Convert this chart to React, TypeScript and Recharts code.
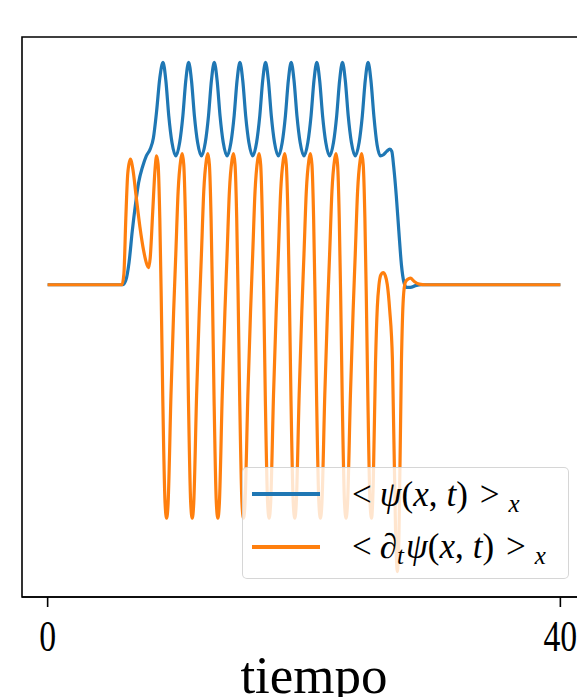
import React from 'react'
import { LineChart, Line, XAxis, YAxis, Legend, Label, ReferenceArea } from 'recharts'

// <psi(x,t)>_x sampled along tiempo
const tiempoPsi = [
  0, 5.85, 6.1, 6.35, 6.6, 6.85, 7.1, 7.4, 7.7, 8.0, 8.25, 8.5, 8.75, 9.0,
  9.22, 9.45, 9.7, 10.0, 10.3, 10.55, 10.78, 11.0,
  11.22, 11.45, 11.7, 12.0, 12.3, 12.55, 12.78, 13.0,
  13.22, 13.45, 13.7, 14.0, 14.3, 14.55, 14.78, 15.0,
  15.22, 15.45, 15.7, 16.0, 16.3, 16.55, 16.78, 17.0,
  17.22, 17.45, 17.7, 18.0, 18.3, 18.55, 18.78, 19.0,
  19.22, 19.45, 19.7, 20.0, 20.3, 20.55, 20.78, 21.0,
  21.22, 21.45, 21.7, 22.0, 22.3, 22.55, 22.78, 23.0,
  23.22, 23.45, 23.7, 24.0, 24.3, 24.55, 24.78, 25.0,
  25.22, 25.45, 25.7, 25.95, 26.2, 26.45, 26.7, 26.85, 27.0, 27.2, 27.4, 27.6, 27.8,
  28.0, 28.3, 28.7, 29.2, 40,
]
const psiProm = [
  0, 0, 0.02, 0.1, 0.24, 0.36, 0.46, 0.53, 0.58, 0.61, 0.66, 0.78, 0.93, 1.0,
  0.92, 0.76, 0.64, 0.58, 0.64, 0.76, 0.92, 1.0,
  0.92, 0.76, 0.64, 0.58, 0.64, 0.76, 0.92, 1.0,
  0.92, 0.76, 0.64, 0.58, 0.64, 0.76, 0.92, 1.0,
  0.92, 0.76, 0.64, 0.58, 0.64, 0.76, 0.92, 1.0,
  0.92, 0.76, 0.64, 0.58, 0.64, 0.76, 0.92, 1.0,
  0.92, 0.76, 0.64, 0.58, 0.64, 0.76, 0.92, 1.0,
  0.92, 0.76, 0.64, 0.58, 0.64, 0.76, 0.92, 1.0,
  0.92, 0.76, 0.64, 0.58, 0.64, 0.76, 0.92, 1.0,
  0.92, 0.76, 0.63, 0.58, 0.585, 0.6, 0.61, 0.6, 0.53, 0.4, 0.24, 0.09, 0.01,
  -0.012, -0.012, -0.004, 0, 0,
]

// <d_t psi(x,t)>_x sampled along tiempo
const tiempoDt = [
  0, 5.8, 5.95, 6.1, 6.25, 6.45, 6.65, 6.9, 7.2, 7.5, 7.75, 7.87, 8.0, 8.2, 8.38, 8.5,
  8.62, 8.75, 8.86, 8.98, 9.16, 9.28, 9.4, 9.62, 9.83, 10.0, 10.18, 10.38, 10.5,
  10.62, 10.75, 10.86, 10.98, 11.16, 11.28, 11.4, 11.62, 11.83, 12.0, 12.18, 12.38, 12.5,
  12.62, 12.75, 12.86, 12.98, 13.16, 13.28, 13.4, 13.62, 13.83, 14.0, 14.18, 14.38, 14.5,
  14.62, 14.75, 14.86, 14.98, 15.16, 15.28, 15.4, 15.62, 15.83, 16.0, 16.18, 16.38, 16.5,
  16.62, 16.75, 16.86, 16.98, 17.16, 17.28, 17.4, 17.62, 17.83, 18.0, 18.18, 18.38, 18.5,
  18.62, 18.75, 18.86, 18.98, 19.16, 19.28, 19.4, 19.62, 19.83, 20.0, 20.18, 20.38, 20.5,
  20.62, 20.75, 20.86, 20.98, 21.16, 21.28, 21.4, 21.62, 21.83, 22.0, 22.18, 22.38, 22.5,
  22.62, 22.75, 22.86, 22.98, 23.16, 23.28, 23.4, 23.62, 23.83, 24.0, 24.18, 24.38, 24.5,
  24.62, 24.75, 24.86, 24.98, 25.15, 25.27, 25.4, 25.58, 25.72, 25.85, 26.0, 26.17, 26.35,
  26.5, 26.68, 26.9, 27.14, 27.28, 27.41, 27.6, 27.75, 27.9, 28.1, 28.3, 28.6, 29.0, 29.5, 40,
]
const dtPsiProm = [
  0, 0, 0.05, 0.3, 0.5, 0.565, 0.52, 0.4, 0.26, 0.15, 0.09, 0.077, 0.12, 0.33, 0.52, 0.58,
  0.54, 0.3, -0.05, -0.5, -0.98, -1.05, -0.98, -0.5, -0.12, 0.14, 0.42, 0.56, 0.59,
  0.54, 0.3, -0.05, -0.5, -0.98, -1.05, -0.98, -0.5, -0.12, 0.14, 0.42, 0.56, 0.59,
  0.54, 0.3, -0.05, -0.5, -0.98, -1.05, -0.98, -0.5, -0.12, 0.14, 0.42, 0.56, 0.59,
  0.54, 0.3, -0.05, -0.5, -0.98, -1.05, -0.98, -0.5, -0.12, 0.14, 0.42, 0.56, 0.59,
  0.54, 0.3, -0.05, -0.5, -0.98, -1.05, -0.98, -0.5, -0.12, 0.14, 0.42, 0.56, 0.59,
  0.54, 0.3, -0.05, -0.5, -0.98, -1.05, -0.98, -0.5, -0.12, 0.14, 0.42, 0.56, 0.59,
  0.54, 0.3, -0.05, -0.5, -0.98, -1.05, -0.98, -0.5, -0.12, 0.14, 0.42, 0.56, 0.59,
  0.54, 0.3, -0.05, -0.5, -0.98, -1.05, -0.98, -0.5, -0.12, 0.14, 0.42, 0.56, 0.59,
  0.54, 0.3, -0.05, -0.5, -0.98, -1.05, -0.9, -0.35, -0.1, 0, 0.045, 0.055, 0.04,
  0, -0.11, -0.34, -1.1, -1.29, -1.12, -0.35, -0.06, 0.01, 0.025, 0.03, 0.015, 0.003, 0, 0,
]

const xTicks = [0, 40]
const xDominio = [-2, 42]
const yDominio = [-1.4045, 1.1145]

const psiData = tiempoPsi.map((t, i) => ({ t, v: psiProm[i] }))
const dtData = tiempoDt.map((t, i) => ({ t, v: dtPsiProm[i] }))

const AZUL = '#1f77b4'
const NARANJA = '#ff7f0e'
const SERIF = '"Liberation Serif", "Times New Roman", serif'

const TickX = ({ x, y, payload }: any) => (
  <g transform={`translate(${x},${y})`}>
    <text transform="scale(0.75,1)" textAnchor="middle" dy={42} fontSize={45} fontFamily={SERIF} fill="#000">
      {payload.value}
    </text>
  </g>
)

const Sub = ({ children }: any) => (
  <span style={{ fontSize: 25, fontStyle: 'italic', position: 'relative', top: 6 }}>{children}</span>
)

// <psi(x,t)>_x  and  <d_t psi(x,t)>_x
const etiquetas = [
  <>
    <span>&lt;</span>
    <i style={{ marginLeft: 8 }}>ψ</i>(<i>x</i>,<i style={{ marginLeft: 9 }}>t</i>)
    <span style={{ marginLeft: 12 }}>&gt;</span>
    <span style={{ marginLeft: 9 }}><Sub>x</Sub></span>
  </>,
  <>
    <span>&lt;</span>
    <span style={{ marginLeft: 8 }}>∂</span><Sub>t</Sub>
    <i style={{ marginLeft: 2 }}>ψ</i>(<i>x</i>,<i style={{ marginLeft: 9 }}>t</i>)
    <span style={{ marginLeft: 12 }}>&gt;</span>
    <span style={{ marginLeft: 9 }}><Sub>x</Sub></span>
  </>,
]

const Leyenda = ({ payload }: any) => (
  <div
    style={{
      position: 'relative',
      boxSizing: 'border-box',
      width: 327,
      height: 112,
      background: 'rgba(255,255,255,0.8)',
      border: '1.5px solid rgba(204,204,204,0.8)',
      borderRadius: 5,
    }}
  >
    {(payload || []).map((entry: any, i: number) => (
      <React.Fragment key={i}>
        <div
          style={{
            position: 'absolute',
            left: 9,
            top: 24 + i * 53,
            width: 68,
            height: 3.5,
            background: entry.color,
          }}
        />
        <div
          style={{
            position: 'absolute',
            left: 109,
            top: 9 + i * 52,
            fontSize: 35,
            lineHeight: '35px',
            fontFamily: SERIF,
            whiteSpace: 'nowrap',
            color: '#000',
          }}
        >
          {etiquetas[i]}
        </div>
      </React.Fragment>
    ))}
  </div>
)

const EtiquetaTiempo = ({ viewBox }: any) => (
  <text
    x={viewBox.x + viewBox.width / 2 + 10}
    y={viewBox.y + 96}
    textAnchor="middle"
    fontSize={53}
    fontFamily={SERIF}
    fill="#000"
  >
    tiempo
  </text>
)

export default function App() {
  return (
    <div
      style={{
        position: 'fixed',
        left: 0,
        top: 0,
        width: 577,
        height: 697,
        overflow: 'hidden',
        background: '#fff',
      }}
    >
      <LineChart width={600} height={697} margin={{ top: 37, right: 14, bottom: 0, left: 22 }}>
        <XAxis
          dataKey="t"
          type="number"
          domain={xDominio}
          ticks={xTicks}
          height={100}
          tickSize={10}
          tickMargin={2}
          tick={<TickX />}
          axisLine={{ stroke: '#000', strokeWidth: 1.6 }}
          tickLine={{ stroke: '#000', strokeWidth: 1.6 }}
        >
          <Label content={<EtiquetaTiempo />} />
        </XAxis>
        <YAxis type="number" domain={yDominio} hide allowDataOverflow />
        <ReferenceArea
          x1={xDominio[0]}
          x2={xDominio[1]}
          y1={yDominio[0]}
          y2={yDominio[1]}
          fill="none"
          fillOpacity={0}
          stroke="#000"
          strokeWidth={1.6}
          ifOverflow="visible"
        />
        <Line
          data={psiData}
          dataKey="v"
          name="<ψ(x,t)>x"
          type="monotone"
          stroke={AZUL}
          strokeWidth={3.2}
          dot={false}
          activeDot={false}
          isAnimationActive={false}
        />
        <Line
          data={dtData}
          dataKey="v"
          name="<∂tψ(x,t)>x"
          type="monotone"
          stroke={NARANJA}
          strokeWidth={3.2}
          dot={false}
          activeDot={false}
          isAnimationActive={false}
        />
        <Legend
          layout="horizontal"
          verticalAlign="middle"
          align="center"
          content={<Leyenda />}
          wrapperStyle={{ left: 242, top: 467, width: 327, height: 112 }}
        />
      </LineChart>
    </div>
  )
}
